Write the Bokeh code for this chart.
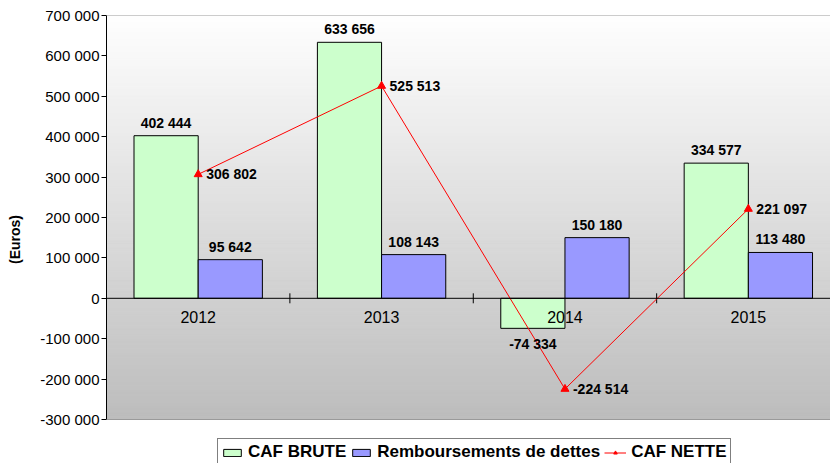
import numpy as np
from bokeh.plotting import figure
from bokeh.models import (ColumnDataSource, Range1d, FixedTicker, Span,
                          Legend, LegendItem)
from bokeh.core.properties import value
from bokeh.embed import file_html
from bokeh.resources import INLINE

# --- data -------------------------------------------------------------
years = ["2012", "2013", "2014", "2015"]
caf_brute = [402444, 633656, -74334, 334577]
remboursements = [95642, 108143, 150180, 113480]
caf_nette = [306802, 525513, -224514, 221097]
y_ticks = [-300000, -200000, -100000, 0, 100000, 200000, 300000,
           400000, 500000, 600000, 700000]

FONT = "Liberation Sans"
GREEN = "#CCFFCC"
BLUE = "#9999FF"
RED = "#FF0000"


def fmt(v):
    return f"{v:,}".replace(",", " ")


n = len(years)
centers = np.arange(n) + 0.5
bar_w = 0.35
y_lo, y_hi = y_ticks[0], y_ticks[-1]

# The frame runs to the bottom of the canvas so the legend can sit under
# the shaded area; the extra room below y_lo is left white.
W, H = 830, 463
top_px, area_px = 15, 404
extra = (y_hi - y_lo) * (H - top_px - area_px) / area_px

p = figure(width=W, height=H, output_backend="svg", toolbar_location=None,
           x_range=Range1d(0, 3.948), y_range=Range1d(y_lo - extra, y_hi),
           x_axis_location=None, min_border_left=106, min_border_right=0,
           min_border_top=top_px, min_border_bottom=0)
p.grid.visible = False
p.outline_line_color = None
p.background_fill_color = "white"
p.border_fill_color = "white"

# --- plot-area gradient (white at the top, grey at the bottom) --------
steps = 120
edges = np.linspace(y_hi, y_lo, steps + 1)
t = (np.arange(steps) + 0.5) / steps
greys = np.clip(255 - 66 * t, 0, 255).astype(int)
cols = ["#%02x%02x%02x" % (g, g, g) for g in greys]
p.quad(left=0, right=p.x_range.end, top=edges[:-1], bottom=edges[1:],
       fill_color=cols, line_color=cols, line_width=1)

p.add_layout(Span(location=y_hi, dimension="width", line_color="#9a9a9a", line_width=1))
p.add_layout(Span(location=y_lo, dimension="width", line_color="#9a9a9a", line_width=1))

# --- bars ----------------------------------------------------------------
src = ColumnDataSource(dict(
    xg=centers - bar_w / 2, xb=centers + bar_w / 2, xc=centers,
    brute=caf_brute, remb=remboursements, nette=caf_nette,
    lbl_brute=[fmt(v) for v in caf_brute],
    lbl_remb=[fmt(v) for v in remboursements],
    lbl_nette=[fmt(v) for v in caf_nette],
    off_brute=[-13 if v >= 0 else 16 for v in caf_brute],
    off_remb=[-13 if v >= 0 else 16 for v in remboursements],
))

r_brute = p.vbar(x="xg", top="brute", bottom=0, width=bar_w, source=src,
                 fill_color=GREEN, line_color="black", line_width=1)
r_remb = p.vbar(x="xb", top="remb", bottom=0, width=bar_w, source=src,
                fill_color=BLUE, line_color="black", line_width=1)

# zero line and category separators
p.add_layout(Span(location=0, dimension="width", line_color="black", line_width=1))
p.scatter(x=np.arange(1, n), y=np.zeros(n - 1), marker="dash", angle=np.pi / 2,
          size=10, line_color="black", line_width=1)

# --- CAF nette line --------------------------------------------------------
r_line = p.line(x="xc", y="nette", source=src, line_color=RED, line_width=1)
r_pts = p.scatter(x="xc", y="nette", source=src, marker="triangle", size=8,
                  fill_color=RED, line_color=RED)

# --- labels ------------------------------------------------------------------
lab = dict(text_font=value(FONT), text_font_size="14px", text_font_style="bold",
           text_color="black")
p.text(x="xg", y="brute", text="lbl_brute", source=src, text_align="center",
       text_baseline="alphabetic", y_offset="off_brute", **lab)
p.text(x="xb", y="remb", text="lbl_remb", source=src, text_align="center",
       text_baseline="alphabetic", y_offset="off_remb", **lab)
p.text(x="xc", y="nette", text="lbl_nette", source=src, text_align="left",
       text_baseline="middle", x_offset=8, y_offset=0, **lab)

# year labels under the zero line
p.text(x=centers, y=np.zeros(n), text=years, text_align="center",
       text_baseline="middle", y_offset=19, text_font=value(FONT),
       text_font_size="16px", text_color="black")

# --- y axis ------------------------------------------------------------------
ax = p.yaxis[0]
ax.bounds = (y_lo, y_hi)
ax.ticker = FixedTicker(ticks=y_ticks)
ax.major_label_overrides = {v: fmt(v) for v in y_ticks}
ax.major_label_text_font = FONT
ax.major_label_text_font_size = "15px"
ax.major_label_text_color = "black"
ax.major_tick_out = 5
ax.major_tick_in = 0
ax.major_label_standoff = 2
ax.minor_tick_line_color = None
ax.axis_line_color = "black"
ax.major_tick_line_color = "black"
ax.axis_label = "(Euros)"
ax.axis_label_text_font = FONT
ax.axis_label_text_font_size = "14px"
ax.axis_label_text_font_style = "bold"
ax.axis_label_text_color = "black"
ax.axis_label_standoff = 14

# --- legend under the shaded area ------------------------------------------------
legend = Legend(items=[
    LegendItem(label="CAF BRUTE", renderers=[r_brute]),
    LegendItem(label="Remboursements de dettes", renderers=[r_remb]),
    LegendItem(label="CAF NETTE", renderers=[r_line, r_pts]),
], orientation="horizontal", location=(111, -3),
    border_line_color="black", border_line_width=1,
    background_fill_color="white", background_fill_alpha=1,
    label_text_font=FONT, label_text_font_size="17px",
    label_text_font_style="bold", label_text_color="black",
    glyph_width=22, glyph_height=9, label_standoff=5, spacing=4,
    padding=3, margin=0)
p.add_layout(legend)

open("out.html", "w").write(file_html(p, INLINE))
